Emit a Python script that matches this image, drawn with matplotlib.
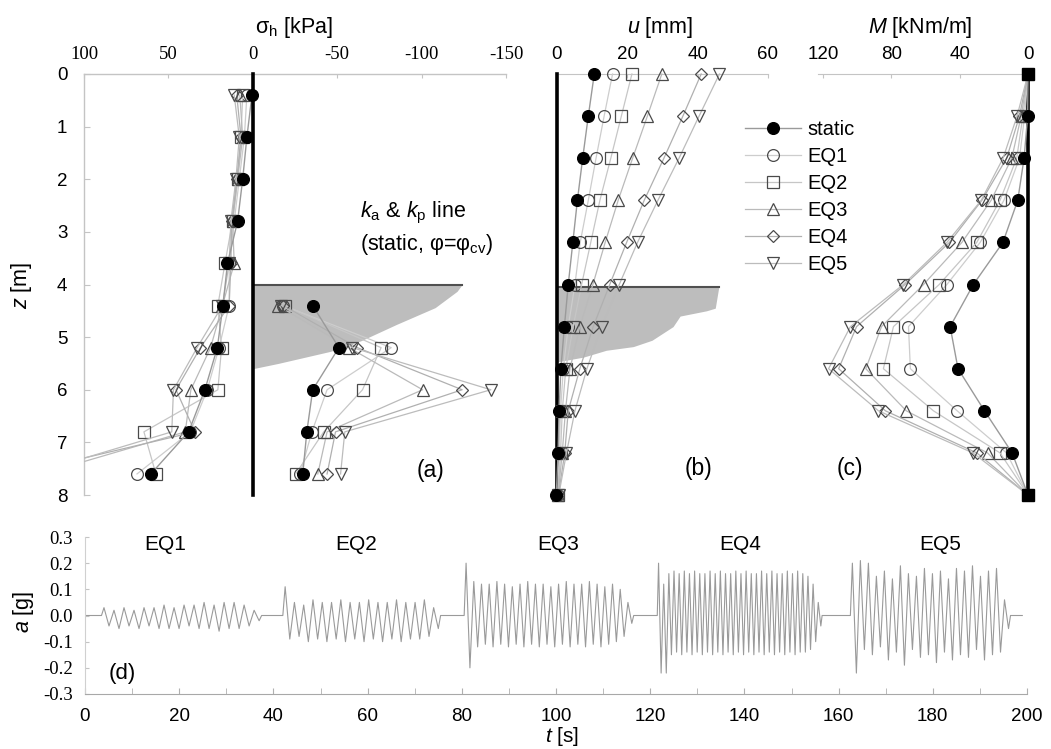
import numpy as np
import matplotlib
matplotlib.use('Agg')
import matplotlib.pyplot as plt
from matplotlib.lines import Line2D

# ---------------- data ----------------
series = ['static', 'EQ1', 'EQ2', 'EQ3', 'EQ4', 'EQ5']

# (a) horizontal stress, retained side (positive = left)
z_a = [0.4, 1.2, 2.0, 2.8, 3.6, 4.4, 5.2, 6.0, 6.8, 7.6]
sig_static = [0.5, 3.5, 6.0, 9.0, 15.0, 17.7, 21.0, 28.4, 38.0, 60.4]
sig_eq1 = [3.5, 5.0, 8.0, 11.0, 14.0, 14.0, 20.0, 27.0, 37.0, 68.6]
sig_eq2 = [6.0, 7.0, 9.0, 12.0, 16.5, 20.7, 18.5, 20.7, 64.5, 57.4]
sig_eq3 = [7.7, 6.0, 9.0, 12.0, 11.0, 18.0, 25.0, 36.7, 40.0, 125.0]
sig_eq4 = [9.5, 7.0, 9.5, 12.5, 13.0, 14.0, 31.0, 45.5, 34.3, 140.0]
sig_eq5 = [11.0, 8.0, 10.0, 13.0, 14.0, 18.0, 33.0, 47.0, 48.0, 131.0]

# (a) horizontal stress, excavated side (negative = right)
z_p = [4.4, 5.2, 6.0, 6.8, 7.6]
pas_static = [-35.5, -51.0, -35.5, -32.0, -29.6]
pas_eq1 = [-18.0, -82.0, -44.0, -35.0, -28.0]
pas_eq2 = [-19.0, -76.0, -65.0, -42.0, -25.4]
pas_eq3 = [-14.8, -57.0, -100.6, -44.0, -38.5]
pas_eq4 = [-18.0, -62.0, -124.0, -49.0, -44.0]
pas_eq5 = [-17.0, -59.0, -141.0, -54.5, -52.0]

# (a) k_a & k_p shaded zone
z_shade_a = [4.0, 4.13, 4.44, 4.76, 5.07, 5.27, 5.5, 5.6]
sig_shade_a = [-124.0, -121.0, -108.0, -85.0, -64.0, -46.0, -15.0, 0.0]
excav_z = 4.0

# (b) displacement, (c) bending moment
z_bc = [0.0, 0.8, 1.6, 2.4, 3.2, 4.0, 4.8, 5.6, 6.4, 7.2, 8.0]
u_static = [10.6, 8.9, 7.3, 5.8, 4.5, 3.2, 2.1, 1.1, 0.6, 0.3, -0.2]
u_eq1 = [15.8, 13.4, 11.1, 8.9, 6.6, 5.1, 3.2, 1.8, 1.0, 0.6, 0.2]
u_eq2 = [21.3, 18.3, 15.3, 12.2, 9.6, 7.0, 4.6, 2.5, 1.5, 1.0, 0.3]
u_eq3 = [29.8, 25.7, 21.5, 17.4, 13.7, 10.2, 6.5, 3.7, 2.4, 1.5, 0.3]
u_eq4 = [41.0, 35.8, 30.4, 24.8, 19.8, 15.0, 10.3, 6.5, 3.2, 2.2, 0.4]
u_eq5 = [46.2, 40.4, 34.7, 28.7, 22.9, 17.7, 12.7, 8.5, 5.1, 2.7, 0.5]

z_shade_b = [4.05, 4.45, 4.5, 4.6, 4.8, 4.93, 5.06, 5.18, 5.25, 5.38, 5.47]
u_shade_b = [46.0, 45.0, 42.5, 35.0, 33.0, 30.0, 27.0, 21.7, 14.0, 7.5, 0.0]

M_static = [0.0, 0.2, 2.3, 6.0, 14.7, 32.0, 45.6, 41.0, 25.5, 9.3, 0.0]
M_eq1 = [0.0, 2.0, 5.0, 14.1, 28.0, 47.5, 70.0, 68.9, 41.5, 12.6, 0.0]
M_eq2 = [0.0, 3.0, 6.6, 16.4, 30.0, 52.0, 78.8, 84.7, 55.4, 16.4, 0.0]
M_eq3 = [0.0, 4.0, 9.5, 21.6, 38.7, 61.2, 85.8, 95.0, 71.3, 23.7, 0.0]
M_eq4 = [0.0, 5.0, 12.5, 27.0, 46.0, 72.0, 100.4, 110.9, 83.5, 30.0, 0.0]
M_eq5 = [0.0, 6.4, 14.6, 27.4, 47.5, 73.0, 104.0, 116.8, 87.6, 32.3, 0.0]

# (d) base acceleration: event windows [s] and per-cycle peaks [g]
eq_windows = [(3.5, 37.5), (42.0, 75.5), (80.5, 116.5), (121.5, 156.5), (162.5, 196.5)]
eq_pos = [
    [0.03, 0.02, 0.03, 0.02, 0.03, 0.03, 0.04, 0.03, 0.04, 0.04, 0.05, 0.04, 0.05, 0.05, 0.04, 0.02],
    [0.11, 0.05, 0.04, 0.06, 0.05, 0.05, 0.06, 0.05, 0.05, 0.06, 0.05, 0.05, 0.06, 0.05, 0.05, 0.06, 0.03],
    [0.20, 0.13, 0.12, 0.12, 0.13, 0.12, 0.11, 0.12, 0.13, 0.12, 0.12, 0.11, 0.12, 0.13, 0.12, 0.12,
     0.13, 0.12, 0.11, 0.12, 0.10, 0.05],
    [0.20, 0.12, 0.16, 0.17, 0.16, 0.17, 0.16, 0.17, 0.16, 0.16, 0.17, 0.16, 0.17, 0.16, 0.16, 0.17,
     0.16, 0.17, 0.16, 0.16, 0.17, 0.16, 0.17, 0.16, 0.16, 0.17, 0.16, 0.17, 0.16, 0.15, 0.12, 0.05],
    [0.20, 0.21, 0.20, 0.15, 0.17, 0.14, 0.19, 0.16, 0.15, 0.18, 0.16, 0.17, 0.14, 0.18, 0.17, 0.19,
     0.15, 0.17, 0.18, 0.06],
]
eq_neg = [
    [-0.04, -0.05, -0.04, -0.05, -0.04, -0.05, -0.05, -0.05, -0.04, -0.05, -0.05, -0.06, -0.05, -0.05, -0.04, -0.02],
    [-0.09, -0.08, -0.10, -0.09, -0.10, -0.09, -0.10, -0.09, -0.10, -0.09, -0.10, -0.09, -0.10, -0.09, -0.09, -0.08, -0.05],
    [-0.20, -0.12, -0.11, -0.12, -0.11, -0.12, -0.11, -0.12, -0.11, -0.12, -0.11, -0.12, -0.11, -0.12, -0.11, -0.12,
     -0.11, -0.12, -0.11, -0.10, -0.08, -0.03],
    [-0.22, -0.22, -0.15, -0.14, -0.15, -0.14, -0.15, -0.14, -0.15, -0.14, -0.15, -0.14, -0.15, -0.14, -0.15, -0.14,
     -0.15, -0.14, -0.15, -0.14, -0.15, -0.14, -0.15, -0.14, -0.15, -0.14, -0.15, -0.14, -0.14, -0.13, -0.10, -0.04],
    [-0.22, -0.13, -0.15, -0.12, -0.17, -0.14, -0.19, -0.13, -0.16, -0.15, -0.18, -0.14, -0.17, -0.15, -0.16, -0.13,
     -0.17, -0.15, -0.14, -0.05],
]
eq_labels = ['EQ1', 'EQ2', 'EQ3', 'EQ4', 'EQ5']
eq_label_t = [17, 57.5, 100.5, 139, 181.5]

# ---------------- style ----------------
plt.rcParams['font.family'] = ['Liberation Sans', 'DejaVu Sans']
plt.rcParams['mathtext.fontset'] = 'custom'
plt.rcParams['mathtext.rm'] = 'Liberation Sans'
plt.rcParams['mathtext.it'] = 'Liberation Sans:italic'
plt.rcParams['axes.unicode_minus'] = False

W, H = 1051, 749
fig = plt.figure(figsize=(W / 100, H / 100), dpi=100)


def rect(l, t, r, b):
    return [l / W, 1 - b / H, (r - l) / W, (b - t) / H]


def fpos(x, y):
    return x / W, 1 - y / H


EDGE = '#4a4a4a'
sty = {
    'static': dict(marker='o', mfc='black', mec='black', ms=8.5, color='#9a9a9a', lw=1.0, zorder=6),
    'EQ1': dict(marker='o', mfc='none', mec=EDGE, ms=8.5, color='#cdcdcd', lw=0.9, zorder=5),
    'EQ2': dict(marker='s', mfc='none', mec=EDGE, ms=8, color='#c6c6c6', lw=0.9, zorder=5),
    'EQ3': dict(marker='^', mfc='none', mec=EDGE, ms=8, color='#bababa', lw=0.9, zorder=5),
    'EQ4': dict(marker='D', mfc='none', mec=EDGE, ms=6, color='#b0b0b0', lw=0.9, zorder=5),
    'EQ5': dict(marker='v', mfc='none', mec=EDGE, ms=8, color='#bcbcbc', lw=0.9, zorder=5),
}
SPINE = '#c4c4c4'
TICKFS = 13.5
serif = ['Liberation Serif', 'DejaVu Serif']

# ---------------- (a) ----------------
ax_a = fig.add_axes(rect(84, 74, 506, 495))
ax_a.set_xlim(100, -150)
ax_a.set_ylim(8, 0)
ax_a.fill_betweenx(z_shade_a, 0, sig_shade_a, color='#bdbdbd', lw=0, zorder=1)
ax_a.plot([0, sig_shade_a[0]], [excav_z, excav_z], color='#505050', lw=1.5, zorder=2)
left_vals = [sig_static, sig_eq1, sig_eq2, sig_eq3, sig_eq4, sig_eq5]
right_vals = [pas_static, pas_eq1, pas_eq2, pas_eq3, pas_eq4, pas_eq5]
for name, lv, rv in zip(series, left_vals, right_vals):
    ax_a.plot(lv, z_a, mew=0.9, **sty[name])
    ax_a.plot(rv, z_p, mew=0.9, **sty[name])
ax_a.plot([0, 0], [0, 8], color='black', lw=2.6, zorder=7, clip_on=False)

ax_a.xaxis.tick_top()
ax_a.set_xticks([100, 50, 0, -50, -100, -150])
ax_a.set_yticks(range(0, 9))
ax_a.tick_params(axis='x', labelsize=TICKFS, direction='in', length=3, color=SPINE, pad=8)
ax_a.tick_params(axis='y', labelsize=TICKFS, direction='in', length=4, color=SPINE, pad=12)
for lab in ax_a.get_xticklabels():
    lab.set_fontfamily(serif)
for s in ['right', 'bottom']:
    ax_a.spines[s].set_visible(False)
for s in ['top', 'left']:
    ax_a.spines[s].set_color(SPINE)
    ax_a.spines[s].set_linewidth(1.0)
ax_a.patch.set_alpha(0)

# ---------------- (b) ----------------
ax_b = fig.add_axes(rect(557, 74, 768, 495))
ax_b.set_xlim(0, 60)
ax_b.set_ylim(8, 0)
ax_b.fill_betweenx(z_shade_b, 0, u_shade_b, color='#bdbdbd', lw=0, zorder=1)
ax_b.plot([0, u_shade_b[0]], [z_shade_b[0], z_shade_b[0]], color='#505050', lw=1.5, zorder=2)
u_vals = [u_static, u_eq1, u_eq2, u_eq3, u_eq4, u_eq5]
handles = []
for name, uv in zip(series, u_vals):
    ax_b.plot(uv, z_bc, mew=0.9, clip_on=False, **sty[name])
    handles.append(Line2D([], [], mew=0.9, **sty[name]))
ax_b.plot([0, 0], [0, 8], color='black', lw=2.6, zorder=4, clip_on=False)
ax_b.xaxis.tick_top()
ax_b.set_xticks([0, 20, 40, 60])
ax_b.set_yticks([])
ax_b.tick_params(axis='x', labelsize=TICKFS, direction='in', length=3, color=SPINE, pad=8)
for s in ['right', 'bottom', 'left']:
    ax_b.spines[s].set_visible(False)
ax_b.spines['top'].set_color(SPINE)
ax_b.patch.set_alpha(0)

# ---------------- (c) ----------------
ax_c = fig.add_axes(rect(818, 74, 1028, 495))
ax_c.set_xlim(123, 0)
ax_c.set_ylim(8, 0)
M_vals = [M_static, M_eq1, M_eq2, M_eq3, M_eq4, M_eq5]
for name, mv in zip(series, M_vals):
    ax_c.plot(mv, z_bc, mew=0.9, markevery=slice(1, -1), clip_on=False, **sty[name])
ax_c.plot([0, 0], [0, 8], color='black', lw=2.6, zorder=4, clip_on=False)
ax_c.plot([M_static[0], M_static[-1]], [z_bc[0], z_bc[-1]], ls='none', marker='s',
          color='black', ms=8, zorder=8, clip_on=False)
ax_c.xaxis.tick_top()
ax_c.set_xticks([120, 80, 40, 0])
ax_c.set_yticks([])
ax_c.tick_params(axis='x', labelsize=TICKFS, direction='in', length=3, color=SPINE, pad=8)
for s in ['right', 'bottom', 'left']:
    ax_c.spines[s].set_visible(False)
ax_c.spines['top'].set_color(SPINE)
ax_c.patch.set_alpha(0)

# legend
leg = fig.legend(handles, series, loc='upper left', bbox_to_anchor=fpos(745, 120),
                 frameon=False, fontsize=14.5, handlelength=2.8, handletextpad=0.3,
                 labelspacing=0.4, borderpad=0, borderaxespad=0)

# ---------------- (d) ----------------
ax_d = fig.add_axes(rect(85, 537, 1027, 694))
t_pts = [0.0]
a_pts = [0.0]
for (t0, t1), pos, neg in zip(eq_windows, eq_pos, eq_neg):
    n = len(pos)
    T = (t1 - t0) / n
    t_pts.append(t0)
    a_pts.append(0.0)
    for i, (p, q) in enumerate(zip(pos, neg)):
        t_pts += [t0 + (i + 0.25) * T, t0 + (i + 0.75) * T]
        a_pts += [p, q]
    t_pts.append(t1)
    a_pts.append(0.0)
t_pts.append(199.0)
a_pts.append(0.0)
ax_d.plot(t_pts, a_pts, color='#9a9a9a', lw=0.8)
ax_d.set_xlim(0, 200)
ax_d.set_ylim(-0.3, 0.3)
ax_d.set_xticks(range(0, 201, 20))
ax_d.set_xticks(range(0, 201, 10), minor=True)
ax_d.set_yticks([-0.3, -0.2, -0.1, 0.0, 0.1, 0.2, 0.3])
ax_d.set_yticklabels(['-0.3', '-0.2', '-0.1', '0.0', '0.1', '0.2', '0.3'])
ax_d.tick_params(axis='x', which='both', labelsize=TICKFS, direction='in', length=4, color='#b0b0b0', pad=10)
ax_d.tick_params(axis='y', labelsize=TICKFS, direction='in', length=3, color=SPINE, pad=9)
for lab in ax_d.get_yticklabels():
    lab.set_fontfamily(serif)
for s in ['right', 'top']:
    ax_d.spines[s].set_visible(False)
ax_d.spines['left'].set_color('#d0d0d0')
ax_d.spines['bottom'].set_color('#a8a8a8')
ax_d.patch.set_alpha(0)
for lab, tl in zip(eq_labels, eq_label_t):
    ax_d.text(tl, 0.27, lab, ha='center', va='center', fontsize=15)
fig.text(*fpos(122, 673), '(d)', ha='center', va='center', fontsize=16)

# ---------------- labels & annotations ----------------
fig.text(*fpos(294, 28), 'σ$_\\mathrm{h}$ [kPa]', ha='center', va='center', fontsize=15.5)
fig.text(*fpos(660, 28), '$u$ [mm]', ha='center', va='center', fontsize=15.5)
fig.text(*fpos(920, 28), '$M$ [kNm/m]', ha='center', va='center', fontsize=15.5)
fig.text(*fpos(22, 285), '$z$ [m]', ha='center', va='center', fontsize=15.5, rotation=90)
fig.text(*fpos(23, 612), '$a$ [g]', ha='center', va='center', fontsize=15.5, rotation=90)
fig.text(*fpos(562, 736), '$t$ [s]', ha='center', va='center', fontsize=15)
fig.text(*fpos(360, 213), '$k_\\mathrm{a}$ & $k_\\mathrm{p}$ line', ha='left', va='center', fontsize=15.5)
fig.text(*fpos(360, 245), '(static, φ=φ$_\\mathrm{cv}$)', ha='left', va='center', fontsize=15.5)
fig.text(*fpos(431, 471), '(a)', ha='center', va='center', fontsize=16.5)
fig.text(*fpos(699, 468), '(b)', ha='center', va='center', fontsize=16.5)
fig.text(*fpos(850, 468), '(c)', ha='center', va='center', fontsize=16.5)

fig.savefig('out.png', dpi=100)
